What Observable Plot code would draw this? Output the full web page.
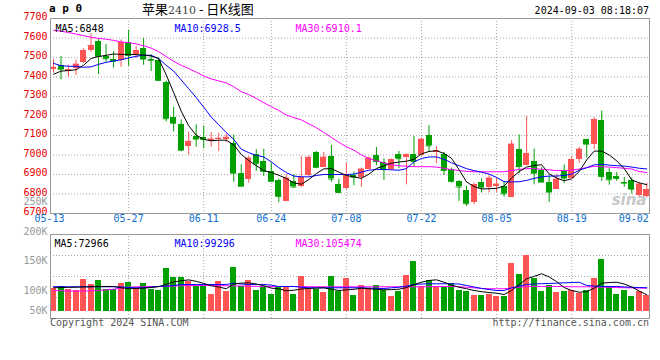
<!DOCTYPE html>
<html><head><meta charset="utf-8">
<script src="https://cdn.jsdelivr.net/npm/d3@7"></script>
<script src="https://cdn.jsdelivr.net/npm/@observablehq/plot@0.6"></script>
<style>
body{margin:0;background:#fff;}
#wrap{position:relative;width:660px;height:360px;overflow:hidden;background:#fff;font-family:"DejaVu Sans Mono",monospace;}
.abs{position:absolute;white-space:nowrap;}
</style></head><body>
<div id="wrap">
  <div id="price" class="abs" style="left:0;top:0"></div>
  <div id="vol" class="abs" style="left:0;top:190px"></div>
  <div class="abs" style="left:49px;top:3px;font:bold 11px/12px 'DejaVu Sans Mono';color:#000">a p 0</div>
  <div class="abs" style="left:142px;top:1px;font:13px/16px 'Noto Sans CJK SC';color:#000">苹果<span style="font-family:'DejaVu Serif';font-size:11px;color:#444">2410</span> - 日K线图</div>
  <div class="abs" style="right:11px;top:5px;font:10px/12px 'DejaVu Sans Mono';color:#000">2024-09-03 08:18:07</div>
  <div class="abs" style="left:50px;top:317px;font:10px/12px 'DejaVu Sans Mono';color:#555">Copyright 2024 SINA.COM</div>
  <div class="abs" style="right:11px;top:317px;font:10px/12px 'DejaVu Sans Mono';color:#555">http://finance.sina.com.cn</div>
</div>
<script>
const dates = ["05-13","05-14","05-15","05-16","05-17","05-20","05-21","05-22","05-23","05-24",
"05-27","05-28","05-29","05-30","05-31","06-03","06-04","06-05","06-06","06-07",
"06-11","06-12","06-13","06-14","06-17","06-18","06-19","06-20","06-21","06-24",
"06-25","06-26","06-27","06-28","07-01","07-02","07-03","07-04","07-05","07-08",
"07-09","07-10","07-11","07-12","07-15","07-16","07-17","07-18","07-19","07-22",
"07-23","07-24","07-25","07-26","07-29","07-30","07-31","08-01","08-02","08-05",
"08-06","08-07","08-08","08-09","08-12","08-13","08-14","08-15","08-16","08-19",
"08-20","08-21","08-22","08-23","08-26","08-27","08-28","08-29","08-30","09-02"];
const opens = [7441,7458,7428,7445,7472,7535,7582,7506,7489,7487,
7577,7516,7546,7490,7486,7374,7193,7158,7042,7095,
7088,7070,7078,7081,7061,6907,6876,7001,6967,6916,
6870,6762,6865,6836,6893,7013,6938,6992,6847,6827,
6894,6885,6928,6996,6962,6925,7001,6989,7004,6996,
7100,7013,7001,6924,6865,6818,6757,6861,6835,6836,
6839,6784,7030,6945,6967,6919,6861,6825,6919,6882,
6975,7081,7054,7178,6911,6892,6860,6870,6791,6788];
const highs = [7490,7505,7460,7488,7545,7622,7592,7567,7530,7590,
7640,7556,7598,7515,7500,7380,7245,7180,7118,7155,
7148,7115,7112,7108,7103,6950,6992,7027,7030,6958,
6877,6899,6900,6993,6996,7018,7013,7049,6876,6958,
6912,6933,6990,7039,6980,6980,7018,7005,7095,7086,
7151,7044,7013,6933,6868,6840,6856,6878,6894,6885,
6865,7074,7103,7197,7030,6935,6890,6900,6948,6990,
7039,7081,7192,7225,6930,6910,6885,6883,6858,6855];
const lows = [7420,7385,7400,7408,7470,7526,7412,7475,7446,7450,
7455,7496,7460,7428,7377,7170,7118,7016,7000,7040,
7032,7040,7018,7064,6860,6835,6855,6916,6890,6862,
6755,6760,6830,6832,6890,6930,6936,6860,6805,6822,
6842,6835,6925,6945,6870,6920,6930,6847,6940,6994,
7013,6955,6895,6856,6762,6737,6745,6805,6805,6808,
6784,6782,6904,6945,6847,6858,6757,6822,6853,6880,
6957,6984,7027,6865,6845,6865,6835,6800,6778,6780];
const closes = [7450,7440,7438,7466,7536,7562,7506,7494,7481,7577,
7510,7535,7492,7486,7383,7186,7163,7025,7070,7082,
7080,7082,7086,7091,6907,6840,6984,6955,6916,6865,
6788,6882,6836,6885,6988,6937,6989,6877,6808,6899,
6886,6928,6984,6967,6925,6975,6981,7001,6967,7081,
7047,7021,6921,6865,6836,6750,6847,6835,6882,6851,
6801,7056,6941,7006,6907,6861,6810,6876,6882,6975,
7030,7056,7180,6890,6873,6880,6856,6825,6851,6822];
const ma5 = [7414,7430,7433,7437,7460,7495,7505,7511,7518,7516,
7516,7515,7512,7508,7494,7412,7320,7225,7150,7102,
7080,7073,7076,7076,7052,7003,6972,6945,6920,6910,
6896,6880,6857,6850,6874,6905,6929,6930,6912,6895,
6888,6880,6902,6931,6944,6958,6964,6968,6978,7006,
7018,7022,7008,6983,6925,6862,6838,6826,6827,6829,
6841,6882,6915,6938,6946,6950,6903,6882,6868,6878,
6915,6975,7020,7020,7000,6970,6930,6872,6857,6848];
const ma10 = [7470,7458,7455,7455,7450,7452,7465,7475,7482,7488,
7498,7506,7512,7511,7495,7460,7430,7385,7340,7295,
7245,7195,7155,7115,7080,7030,7012,6998,6990,6965,
6935,6910,6892,6888,6888,6895,6900,6900,6900,6900,
6902,6912,6922,6926,6926,6924,6922,6930,6965,6982,
6990,6990,6978,6960,6945,6930,6920,6912,6902,6885,
6863,6862,6863,6870,6880,6888,6892,6892,6895,6902,
6922,6935,6950,6952,6948,6945,6943,6938,6932,6928.5];
const ma30 = [7640,7635,7628,7620,7612,7604,7598,7594,7588,7580,
7576,7570,7560,7548,7530,7505,7480,7460,7443,7425,
7405,7390,7380,7370,7350,7325,7310,7290,7268,7248,
7228,7205,7192,7180,7160,7140,7115,7090,7065,7042,
7025,7000,6982,6970,6960,6950,6945,6942,6940,6940,
6940,6938,6932,6925,6920,6916,6914,6914,6914,6914,
6914,6920,6926,6930,6930,6927,6924,6920,6920,6922,
6928,6935,6942,6940,6938,6935,6932,6928,6915,6910.1];
const volumes = [103900,106800,101700,99500,118300,110700,116900,101200,101200,112200,
113900,103400,111900,102200,100700,137600,122000,122000,115900,107600,
107600,93600,115300,98300,139300,107600,116900,100000,106400,93600,
104700,106300,93600,124000,101400,101400,96600,123700,98300,120700,
91500,108000,104200,108100,100700,89800,98300,125400,149200,107500,
116900,105800,105100,112200,100000,98300,91500,91500,93900,89800,
89800,146300,127600,158500,120700,98300,108000,96600,98300,100000,
95300,100000,120700,152900,106800,93600,100000,89800,98300,91200];
const volMa5 = [104.6,105,105.3,105.6,106,106.4,106.8,106.8,106.8,104.6,
103,103.5,104,105,106.5,110.5,114.5,116.5,118,115.5,
112,108,106,103,111,112.5,113,111,108,104,
102.9,99.5,100.5,102.5,103.5,104,104.5,102.2,100,101,
102,103.9,103,102,101.2,101.5,102.2,105,110,114,
117,118.1,114,109,105.6,103,100,98,96.5,95.4,
93.2,100,110,119.8,124,128.3,123,115,105,100,
97.1,98,104,112.4,113.5,114,111,106,99,92.7].map(v => v * 1000);
const volMa10 = [106.5,106.5,106.3,106.3,106.3,106.3,106.3,106.3,106.3,106,
105,104.6,104.6,106,106.8,107.5,108.5,110,110.2,110.2,
110.2,110.2,110.2,110.2,112.4,111,110.2,110.2,110.2,109,
106.8,106.8,106.8,105.5,104.6,104.6,104.6,104.6,104.6,104.6,
104.6,104.6,104,103.5,103.4,104.5,105.6,107.5,110.2,111,
111.4,111.4,111.4,111.4,111,108.5,106,103.5,101.7,100,
100,104.6,107.5,110.2,111,111.5,112,112.4,113,113.5,
114,108.5,107.5,107,106.8,106.8,106,105.5,105,104.6].map(v => v * 1000);
const volMa30 = [100,99.5,99,98.8,99,99.5,100,101,102.2,104,
105.5,106.3,106.5,106.6,106.8,107,107.5,108,108.3,108.5,
108.5,108.3,108.2,108,107.9,107.6,107.3,107,106.8,106.8,
106.8,106.8,106.8,106.6,106.5,106.4,106.3,106.3,106.3,106.3,
106.3,106.3,106.3,106.3,106.3,106.3,106.3,106.3,106.3,106.3,
106.3,106.8,106.8,106.8,106.5,105.5,104.5,103.5,103,102.9,
103,104,105.5,106.8,106.8,106.8,106.8,106.8,106.6,106.4,
106.3,106.3,106,105.7,105.4,105,104.7,104.4,104.1,103.9].map(v => v * 1000);

const xTickLabels = ["05-13","05-27","06-11","06-24","07-08","07-22","08-05","08-19","09-02"];
const priceTicks = [7700,7600,7500,7400,7300,7200,7100,7000,6900,6800,6700];
const volTickValues = [250000,200000,150000,100000];
const volTickLabels = ["250K","200K","150K","100K"];
const volBottomTickValue = [50000];
const volBottomTickLabel = ["50K"];
const priceLegend = ["MA5:6848","MA10:6928.5","MA30:6910.1"];
const volLegend = ["MA5:72966","MA10:99296","MA30:105474"];

const RED = "#ff5454", GREEN = "#00a000";
const GRID = "#a8a8a8";
const rows = dates.map((d, i) => ({
  i, date: d, open: opens[i], high: highs[i], low: lows[i], close: closes[i],
  ma5: ma5[i], ma10: ma10[i], ma30: ma30[i],
  vol: volumes[i], vma5: volMa5[i], vma10: volMa10[i], vma30: volMa30[i],
  color: closes[i] >= opens[i] ? RED : GREEN
}));
const tickIdx = xTickLabels.map(d => dates.indexOf(d));
const innerIdx = tickIdx.slice(1, -1);
const xDomain = [-0.4, 79.36];
const hw = 0.4;
const font = {fontFamily: "DejaVu Sans Mono", fontSize: "10px", background: "transparent", overflow: "visible"};

const price = Plot.plot({
  width: 660, height: 230,
  marginLeft: 50, marginRight: 11, marginTop: 18, marginBottom: 17,
  style: font,
  x: {domain: xDomain, axis: null},
  y: {domain: [6700, 7700], axis: null},
  color: {type: "identity"},
  marks: [
    Plot.ruleY(priceTicks.slice(1, -1), {stroke: GRID, strokeDasharray: "1,2"}),
    Plot.ruleX(innerIdx, {stroke: GRID, strokeDasharray: "1,2"}),
    Plot.ruleX(rows, {x: "i", y1: "low", y2: "high", stroke: "color"}),
    Plot.rect(rows, {x1: d => d.i - hw, x2: d => d.i + hw, y1: d => Math.min(d.open, d.close), y2: d => Math.max(d.open, d.close), fill: "color", shapeRendering: "crispEdges"}),
    Plot.ruleY(rows, {x1: d => d.i - hw, x2: d => d.i + hw, y: "close", stroke: "color"}),
    Plot.line(rows, {x: "i", y: "ma30", stroke: "#ff00ff", strokeWidth: 1}),
    Plot.line(rows, {x: "i", y: "ma10", stroke: "#0000ff", strokeWidth: 1}),
    Plot.line(rows, {x: "i", y: "ma5", stroke: "#000000", strokeWidth: 1}),
    Plot.frame({stroke: "#999"}),
    Plot.text(priceTicks, {y: d => d, text: d => String(d), frameAnchor: "left", textAnchor: "end", dx: -3, dy: -1.5, fill: "#e60000"}),
    Plot.text(xTickLabels.slice(1, -1), {x: d => dates.indexOf(d), text: d => d, frameAnchor: "bottom", dy: 8, fill: "#0a6fd0"}),
    Plot.text(xTickLabels.slice(0, 1), {x: d => dates.indexOf(d), text: d => d, frameAnchor: "bottom", dy: 8, dx: -4, fill: "#0a6fd0"}),
    Plot.text(xTickLabels.slice(-1), {x: d => dates.indexOf(d), text: d => d, frameAnchor: "bottom", dy: 8, dx: 2, textAnchor: "end", fill: "#0a6fd0"}),
    Plot.text([priceLegend[0]], {frameAnchor: "top-left", dx: 5, dy: 6, textAnchor: "start", fill: "#000"}),
    Plot.text([priceLegend[1]], {frameAnchor: "top-left", dx: 124, dy: 6, textAnchor: "start", fill: "#0000ff"}),
    Plot.text([priceLegend[2]], {frameAnchor: "top-left", dx: 245, dy: 6, textAnchor: "start", fill: "#ff00ff"}),
    Plot.text(["sina"], {frameAnchor: "bottom-right", dx: -3, dy: -9, textAnchor: "end", fill: "#c8c8c8", fontSize: 15, fontWeight: "bold", fontStyle: "italic", fontFamily: "DejaVu Sans"})
  ]
});
document.getElementById("price").appendChild(price);

const volFloor = 64400, volTop = 194900;
const frameBottomVal = volFloor - (volTop - volFloor) * 7 / 77;
const volGrid = [1, 2, 3].map(k => volTop - k * (volTop - frameBottomVal) / 4);
const vol = Plot.plot({
  width: 660, height: 140,
  marginLeft: 50, marginRight: 11, marginTop: 44, marginBottom: 12,
  style: font,
  x: {domain: xDomain, axis: null},
  y: {domain: [volFloor, volTop], range: [121, 44], axis: null},
  color: {type: "identity"},
  marks: [
    Plot.ruleY(volGrid, {stroke: GRID, strokeDasharray: "1,2"}),
    Plot.ruleX(innerIdx, {stroke: GRID, strokeDasharray: "1,2", y1: frameBottomVal, y2: volTop}),
    Plot.rect(rows, {x1: d => d.i - hw, x2: d => d.i + hw, y1: volFloor, y2: "vol", fill: "color", shapeRendering: "crispEdges"}),
    Plot.line(rows, {x: "i", y: "vma30", stroke: "#ff00ff", strokeWidth: 1}),
    Plot.line(rows, {x: "i", y: "vma10", stroke: "#0000ff", strokeWidth: 1}),
    Plot.line(rows, {x: "i", y: "vma5", stroke: "#000000", strokeWidth: 1}),
    Plot.frame({stroke: "#999"}),
    Plot.text(volTickValues, {y: d => d, text: (d, j) => volTickLabels[j], frameAnchor: "left", textAnchor: "end", dx: -3, fill: "#999"}),
    Plot.text(volBottomTickValue, {y: d => d, text: (d, j) => volBottomTickLabel[j], frameAnchor: "left", textAnchor: "end", dx: -3, dy: -9.5, fill: "#999"}),
    Plot.text([volLegend[0]], {frameAnchor: "top-left", dx: 4, dy: 5, textAnchor: "start", fill: "#000"}),
    Plot.text([volLegend[1]], {frameAnchor: "top-left", dx: 124, dy: 5, textAnchor: "start", fill: "#0000ff"}),
    Plot.text([volLegend[2]], {frameAnchor: "top-left", dx: 245, dy: 5, textAnchor: "start", fill: "#ff00ff"})
  ]
});
document.getElementById("vol").appendChild(vol);
</script>
</body></html>
